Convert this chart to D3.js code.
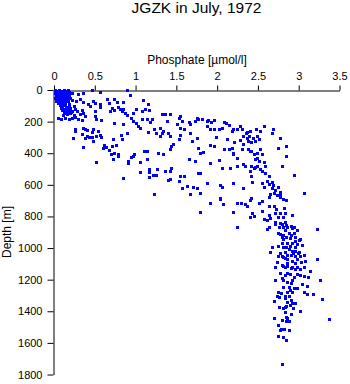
<!DOCTYPE html>
<html><head><meta charset="utf-8">
<script src="https://cdn.jsdelivr.net/npm/d3@7"></script>
<style>
html,body{margin:0;padding:0;background:#fff;}
svg{display:block;font-family:"Liberation Sans",Arial,Helvetica,sans-serif;}
</style></head>
<body>
<svg id="chart" width="350" height="384"></svg>
<script>
// Phosphate [µmol/l], Depth [m] pairs
const mixedLayer = [
[0.01,2],[0.03,5],[0.06,3],[0.09,4],[0.12,2],[0.15,6],[0.17,3],[0.02,12],[0.05,10],[0.08,14],[0.11,11],[0.14,13],[0.18,10],
[0.01,20],[0.04,22],[0.07,19],[0.10,24],[0.13,21],[0.16,18],[0.02,30],[0.05,32],[0.09,29],[0.12,33],[0.15,31],[0.18,28],
[0.03,40],[0.06,42],[0.08,38],[0.11,44],[0.14,41],[0.17,39],[0.01,48],[0.04,50],[0.07,53],[0.10,49],[0.13,55],[0.16,52],[0.19,47],
[0.02,60],[0.05,63],[0.09,58],[0.12,65],[0.15,61],[0.03,70],[0.06,74],[0.10,69],[0.13,76],[0.17,72],[0.05,84],[0.08,88],[0.11,82],
[0.14,90],[0.18,86],[0.07,98],[0.10,102],[0.13,96],[0.16,105],[0.19,100],[0.08,112],[0.12,118],[0.15,114],[0.19,120],[0.10,128],
[0.14,135],[0.17,130],[0.21,138],[0.12,145],[0.16,150],[0.20,148],[0.24,156]
];
const upperSlope = [
[0.22,21],[0.29,27],[0.36,21],[0.46,2],[0.56,13],[0.20,49],[0.22,63],[0.32,55],[0.36,76],[0.48,70],[0.50,84],[0.27,70],[0.24,101],
[0.26,122],[0.28,133],[0.34,127],[0.42,91],[0.44,101],[0.50,133],[0.20,112],[0.22,133],[0.05,175],[0.09,186],[0.13,175],[0.18,186],
[0.22,175],[0.26,169],[0.30,186],[0.34,190],[0.38,165],[0.36,148],[0.50,165],[0.52,186],[0.26,249],[0.36,238],[0.38,249],[0.48,249],
[0.32,154],[0.16,154],[0.11,160],
[0.89,0],[0.93,34],[0.65,55],[0.73,55],[0.68,80],[0.77,76],[0.85,76],[1.09,63],[1.15,91],[1.01,118],[1.08,133],[1.12,122],[1.16,127],
[0.56,91],[0.56,106],[0.71,112],[0.69,133],[0.73,127],[0.79,106],[0.81,118],[0.83,133],[0.85,122],[0.87,143],[0.89,160],[0.97,148],
[0.95,175],[0.97,196],[1.01,207],[1.03,228],[1.06,238],[1.08,181],[1.14,181],[1.18,203],[1.20,181],[1.22,249],[1.30,238],[1.32,154],
[1.36,154],[1.42,154],[1.38,196],[1.53,175],[1.55,167],[1.57,196],[1.51,217],[1.55,238],[1.59,249],[1.65,203],[1.67,217],[1.75,175],
[1.77,181],[1.73,196],[0.58,190],[0.73,207],[0.85,217]
];
const midSlope = [
[1.30,291],[1.32,270],[1.34,260],[1.40,270],[1.42,291],[1.53,312],[1.55,287],[1.67,270],[1.69,323],[1.75,302],[1.46,344],[1.44,354],
[1.42,376],[1.77,365],[1.34,407],[1.65,439],[1.73,449],[1.36,513],[1.44,492],[1.42,513],[1.42,565],[1.55,544],[1.59,544],[1.77,528],
[0.26,257],[0.40,253],[0.47,264],[0.54,257],[0.23,306],[0.34,279],[0.38,306],[0.41,291],[0.43,300],[0.47,300],[0.48,321],[0.52,291],
[0.56,287],[0.58,295],[0.72,312],[0.82,287],[0.83,312],[0.89,270],[1.15,264],[1.25,270],[0.35,363],[0.61,350],[0.64,359],[0.60,369],
[0.71,355],[0.76,350],[0.68,380],[0.70,405],[0.74,401],[0.79,405],[0.79,418],[0.52,454],[0.72,439],[0.91,447],[0.91,460],[0.94,426],
[0.98,405],[0.97,418],[1.06,454],[1.10,384],[1.14,384],[1.14,439],[1.27,397],[1.06,517],[1.17,502],[1.16,517],[1.21,538],[1.26,502],
[1.17,553],[1.25,538],[0.85,559],[1.23,660],
[1.40,570],[1.53,574],[1.57,622],[1.63,608],[1.70,612],[1.75,622],[1.67,660]
];
const thermoclineColumn = [
[1.81,186],[1.87,196],[1.89,190],[1.92,203],[1.96,190],[1.87,228],[1.91,245],[1.96,245],[2.02,249],[2.06,238],[2.09,203],[2.11,211],
[2.15,224],[2.18,260],[2.20,249],[2.24,245],[2.28,228],[2.31,249],[2.35,270],[2.37,266],[2.40,260],[2.48,249],[2.53,260],[2.58,228],
[2.67,270],[2.68,249],[2.32,291],[2.36,302],[2.39,291],[2.44,302],[2.49,291],[2.51,312],[2.47,323],[2.42,329],[2.38,323],[2.28,317],
[2.21,329],[2.12,312],[1.98,295],[1.91,350],[1.96,354],[2.08,376],[2.14,376],[2.18,365],[2.19,407],[2.20,397],[2.24,428],[2.30,371],
[2.32,341],[2.38,371],[2.40,386],[2.42,386],[2.45,407],[2.49,397],[2.53,376],[2.55,407],[2.47,435],[2.49,428],[2.51,449],[2.57,456],
[2.59,481],[2.45,492],[2.42,481],[2.47,485],[2.49,481],[2.52,498],[2.55,513],[2.59,528],[2.63,544],[2.42,544],[2.40,513],[2.34,481],
[2.32,471],[2.24,481],[2.16,492],[2.06,492],[1.91,460],[2.02,443],[1.83,392],[2.74,365],[2.77,302],[2.85,418],[2.79,481],[1.79,528],
[1.79,397],[2.85,355],[2.94,538]
];
const transitionColumn = [
[1.88,587],[2.04,601],[2.06,616],[2.20,591],[2.32,622],[2.43,580],[2.55,587],[2.57,612],[2.63,595],[2.69,601],[2.75,616],[2.67,580],
[2.61,574],[1.79,654],[2.04,686],[2.04,692],[1.91,713],[2.07,722],[2.24,713],[2.29,717],[2.34,722],[2.36,734],[2.40,696],[2.41,686],
[2.51,713],[2.55,701],[2.63,675],[2.65,658],[2.70,654],[2.73,665],[2.77,658],[2.77,679],[2.81,692],[2.67,622],[2.71,633],[2.77,644],
[2.85,696],[3.06,650],[1.79,770],[2.19,770],[2.43,776],[2.45,798],[2.40,802],[2.55,764],[2.63,734],[2.70,734],[2.72,755],[2.63,791],
[2.57,819],[2.61,823],[2.65,812],[2.71,781],[2.74,802],[2.77,776],[2.82,749],[2.83,776],[2.81,802],[2.92,791]
];
const deepColumn = [
[2.24,865],[2.63,869],[2.61,882],[2.71,833],[2.71,848],[2.77,844],[2.76,869],[2.81,869],[2.86,869],[2.90,861],[2.94,869],[2.98,886],
[3.22,882],[2.75,907],[2.77,912],[2.79,933],[2.81,945],[2.88,907],[2.90,918],[2.94,907],[2.95,928],[2.89,939],[3.00,950],[3.02,945],
[2.92,966],[2.98,975],[3.04,981],[2.67,992],[2.75,988],[2.81,992],[2.85,992],[2.89,988],[2.92,1017],[2.96,1017],[3.00,1023],[2.65,1023],
[2.74,1051],[2.79,1051],[2.86,1044],[2.90,1044],[2.96,1051],[3.02,1051],[3.07,1044],[2.83,1066],[2.86,1072],[2.92,1080],[2.98,1072],
[3.03,1087],[3.08,1080],[2.73,1087],[3.22,1072],[2.71,1122],[2.77,1156],[2.81,1114],[2.83,1122],[2.86,1114],[2.90,1129],[2.92,1122],
[2.95,1135],[3.02,1135],[3.06,1118],[3.14,1144],[2.86,1156],[2.89,1165],[2.98,1165],[3.02,1171],[3.07,1177],[3.11,1186],[2.71,1203],
[2.81,1203],[2.86,1213],[2.90,1224],[2.92,1199],[2.88,1245],[2.81,1249],[2.94,1255],[2.98,1255],[3.04,1228],[3.10,1241],[3.26,1199],
[2.74,1277],[2.78,1283],[2.86,1277],[2.92,1277],[3.06,1277],[3.10,1291],[3.18,1291],[2.73,1304],[2.76,1308],[2.83,1304],[2.88,1304],
[2.90,1329],[2.92,1350],[2.89,1361],[2.96,1346],[2.70,1334],[2.85,1367],[2.76,1372],[2.83,1376],[2.93,1382],[3.02,1397],[3.28,1325],
[2.83,1403],[2.85,1435],[2.86,1445],[2.70,1445],[2.79,1456],[2.85,1460],[2.88,1460],[2.74,1487],[2.78,1515],[2.82,1515],[2.74,1557],
[2.81,1562],[2.85,1583],[3.37,1451],[2.80,1734],
[2.79,848],[2.83,833],[2.85,855],[2.92,876],[2.83,886],[2.81,918],[2.85,928],[2.96,954],[2.86,966],[2.79,971],[2.95,996],[2.88,1009],
[2.83,1023],[2.77,1030],[2.93,1034],[2.99,1034],[2.81,1059],[2.96,1093],[2.86,1093],[2.79,1108],[2.98,1118],[2.83,1171],[2.94,1182],
[2.79,1192],[2.89,1266],[2.83,1319],[2.86,1340],[2.81,1382],[2.90,1418],[2.77,1519],[2.88,1519]
];
const xTicks = [0, 0.5, 1, 1.5, 2, 2.5, 3, 3.5];
const yTicks = [0, 200, 400, 600, 800, 1000, 1200, 1400, 1600, 1800];
const titleText = "JGZK in July, 1972";
const xLabel = "Phosphate [\u00b5mol/l]";
const yLabel = "Depth [m]";

const points = [].concat(mixedLayer, upperSlope, midSlope, thermoclineColumn, transitionColumn, deepColumn);

const svg = d3.select("#chart");
const plotLeft = 54, plotRight = 339.5, plotTop = 90, plotBottom = 374.5;
const x = d3.scaleLinear().domain([0, 3.5]).range([plotLeft, plotRight]);
const y = d3.scaleLinear().domain([0, 1800]).range([plotTop, plotBottom]);

svg.append("text").attr("x", 196.5).attr("y", 13).attr("text-anchor", "middle")
  .attr("font-size", 15.5).attr("fill", "#000").text(titleText);
svg.append("text").attr("x", 197).attr("y", 64).attr("text-anchor", "middle")
  .attr("font-size", 12).attr("fill", "#000").text(xLabel);
svg.append("text").attr("transform", "translate(11,232) rotate(-90)").attr("text-anchor", "middle")
  .attr("font-size", 12).attr("fill", "#000").text(yLabel);

const xAxis = svg.append("g").attr("transform", "translate(0,90.5)")
  .call(d3.axisTop(x).tickValues(xTicks).tickSize(5).tickPadding(6).tickSizeOuter(0).tickFormat(d3.format("")));
const yAxis = svg.append("g").attr("transform", "translate(53.5,0)")
  .call(d3.axisLeft(y).tickValues(yTicks).tickSize(6).tickPadding(5).tickSizeOuter(0).tickFormat(d3.format("")));
[xAxis, yAxis].forEach(g => {
  g.selectAll("text").attr("font-size", 11).attr("font-family", "'Liberation Sans',Arial,sans-serif").attr("fill", "#000");
  g.selectAll("line,path").attr("stroke", "#000").attr("stroke-width", 1);
});

svg.append("g").selectAll("rect").data(points).join("rect")
  .attr("x", d => Math.round(x(d[0])) - 1)
  .attr("y", d => Math.round(y(d[1])) - 1)
  .attr("width", 3).attr("height", 3)
  .attr("fill", "#0000ff");
</script>
</body></html>
